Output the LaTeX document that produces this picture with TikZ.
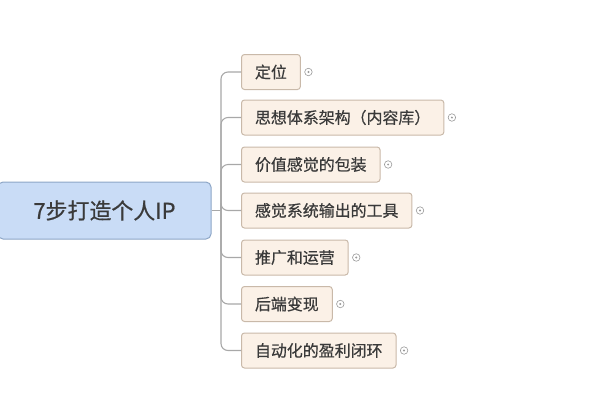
\documentclass[tikz,border=0pt]{standalone}
\usepackage{fontspec}
\newfontfamily\cjk[FakeBold=0.6]{Noto Sans CJK SC}
\usepackage{tikz}
\usetikzlibrary{positioning}

\definecolor{rootfill}{HTML}{C9DCF6}
\definecolor{rootline}{HTML}{8DA6C6}
\definecolor{topicfill}{HTML}{FBF1E7}
\definecolor{topicline}{HTML}{C9B9A9}
\definecolor{linegray}{HTML}{A8A8A8}
\definecolor{markline}{HTML}{9A9A9A}
\definecolor{txt}{HTML}{3A3A3A}

\begin{document}
\begin{tikzpicture}[
    x=1bp, y=-1bp,
    font=\cjk,
    line width=1bp,
    rootbox/.style={
        draw=rootline,
        fill=rootfill,
        rounded corners=5bp,
        minimum width=213bp,
        minimum height=57bp,
        text=txt,
        font=\cjk\fontsize{22}{22}\selectfont
    },
    topic/.style={
        draw=topicline,
        fill=topicfill,
        rounded corners=3bp,
        minimum height=35bp,
        inner xsep=13.5bp,
        anchor=west,
        text=txt,
        font=\cjk\fontsize{16}{16}\selectfont
    },
    marker/.style={
        circle,
        draw=markline,
        line width=0.6bp,
        minimum size=7.5bp,
        inner sep=0pt,
        fill=white,
        path picture={\fill[markline] (path picture bounding box.center) circle (1.1bp);}
    },
    branch/.style={
        draw=linegray,
        line width=1.1bp,
        rounded corners=7bp
    }
]
\useasboundingbox (0,0) rectangle (600,400);

% =========================================================
% central topic
% =========================================================
\node[rootbox] (root) at (104.5,210.5) {7步打造个人IP};
\coordinate (trunk) at (221,210.5);

% =========================================================
% seven steps
% =========================================================
\node[topic] (c1) at (241,72) {定位};
\node[topic] (c2) at (241,117.5) {思想体系架构（内容库）};
\node[topic] (c3) at (241,164.5) {价值感觉的包装};
\node[topic] (c4) at (241,210.5) {感觉系统输出的工具};
\node[topic] (c5) at (241,257.5) {推广和运营};
\node[topic] (c6) at (241,304) {后端变现};
\node[topic] (c7) at (241,350.5) {自动化的盈利闭环};

% collapse markers
\node[marker, right=3.5bp of c1] (m1) {};
\node[marker, right=3.5bp of c2] (m2) {};
\node[marker, right=3.5bp of c3] (m3) {};
\node[marker, right=3.5bp of c4] (m4) {};
\node[marker, right=3.5bp of c5] (m5) {};
\node[marker, right=3.5bp of c6] (m6) {};
\node[marker, right=3.5bp of c7] (m7) {};

% branches
\draw[branch] (root.east) -- (trunk);
\foreach \c in {c1,c2,c3,c4,c5,c6,c7}
    \draw[branch] (trunk) |- (\c.west);

\end{tikzpicture}
\end{document}
